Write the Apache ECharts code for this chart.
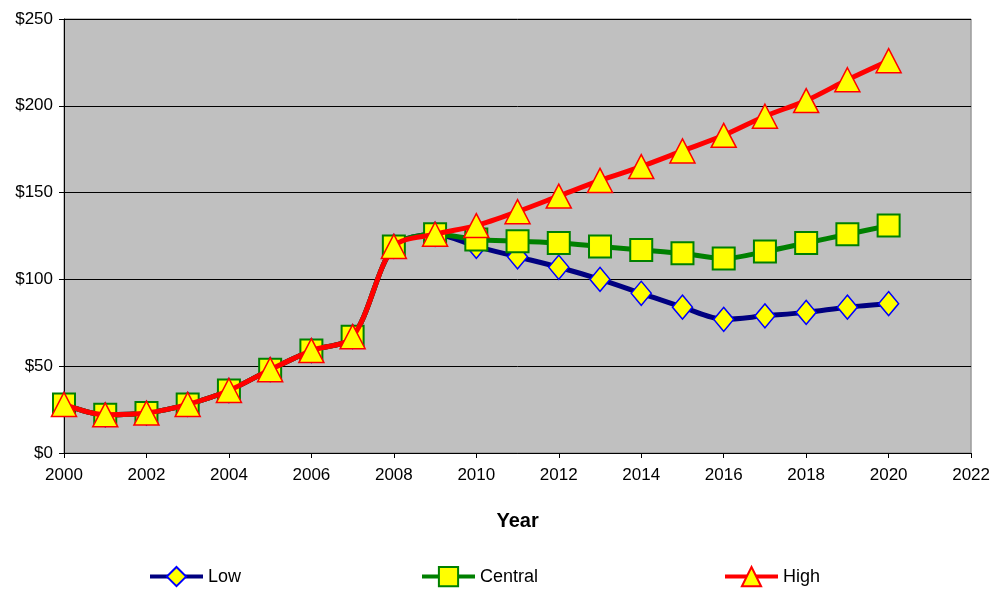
<!DOCTYPE html>
<html>
<head>
<meta charset="utf-8">
<script src="https://cdn.jsdelivr.net/npm/echarts@6/dist/echarts.min.js"></script>
<style>
html,body{margin:0;padding:0;background:#fff;}
#c{width:993px;height:593px;}
</style>
</head>
<body>
<div id="c"></div>
<script>
var years = [2000,2001,2002,2003,2004,2005,2006,2007,2008,2009,2010,2011,2012,2013,2014,2015,2016,2017,2018,2019,2020];
var lowValues = [28,22,23,28,36,48,59,67,119,126,119,113,107,100,92,84,77,79,81,84,86];
var centralValues = [28,22,23,28,36,48,59,67,119,126,123,122,121,119,117,115,112,116,121,126,131];
var highValues = [28,22,23,28,36,48,59,67,119,126,131,139,148,157,165,174,183,194,203,215,226];
var yTicks = [0,50,100,150,200,250];

function pairs(vals){ return years.map(function(y,i){ return [y, vals[i]]; }); }

var font = 'Arial, "Liberation Sans", sans-serif';
var chart = echarts.init(document.getElementById('c'));
function legend(name, left){
  return {
    data:[name], left:left, top:566, padding:0, itemWidth:53, itemHeight:24, itemGap:0,
    lineStyle:{width:4},
    textStyle:{fontFamily:font, fontSize:18, color:'#000', padding:[0,0,0,0]}
  };
}
chart.setOption({
  animation:false,
  backgroundColor:'#fff',
  grid:{left:64, top:19, right:21, bottom:140, show:true, backgroundColor:'#C0C0C0', borderColor:'#808080', borderWidth:1},
  legend:[legend('Low',148), legend('Central',420), legend('High',723)],
  xAxis:{
    type:'value', min:2000, max:2022, interval:2,
    name:'Year', nameLocation:'middle', nameGap:58,
    nameTextStyle:{fontFamily:font, fontSize:20, fontWeight:'bold', color:'#000'},
    axisLine:{show:true, lineStyle:{color:'#000', width:1}},
    axisTick:{show:true, inside:false, length:5, lineStyle:{color:'#000'}},
    axisLabel:{fontFamily:font, fontSize:17, color:'#000', margin:14, formatter:function(v){return String(v);}},
    splitLine:{show:false}
  },
  yAxis:{
    type:'value', min:yTicks[0], max:yTicks[yTicks.length-1], interval:50,
    axisLine:{show:true, lineStyle:{color:'#000', width:1}},
    axisTick:{show:true, inside:false, length:5, lineStyle:{color:'#000'}},
    axisLabel:{fontFamily:font, fontSize:17, color:'#000', margin:11, formatter:function(v){return '$'+v;}},
    splitLine:{show:true, lineStyle:{color:'#000', width:1}}
  },
  series:[
    {name:'Low', type:'line', data:pairs(lowValues), smooth:0.3,
     lineStyle:{color:'#000080', width:5}, itemStyle:{color:'#FFFF00', borderColor:'#0000FF', borderWidth:1.5},
     symbol:'diamond', symbolSize:[20,24], z:2},
    {name:'Central', type:'line', data:pairs(centralValues), smooth:0.3,
     lineStyle:{color:'#008000', width:5}, itemStyle:{color:'#FFFF00', borderColor:'#008000', borderWidth:2},
     symbol:'rect', symbolSize:22, z:3},
    {name:'High', type:'line', data:pairs(highValues), smooth:0.3,
     lineStyle:{color:'#FF0000', width:5}, itemStyle:{color:'#FFFF00', borderColor:'#FF0000', borderWidth:1.5},
     symbol:'triangle', symbolSize:[25,24], z:4}
  ]
});
</script>
</body>
</html>
